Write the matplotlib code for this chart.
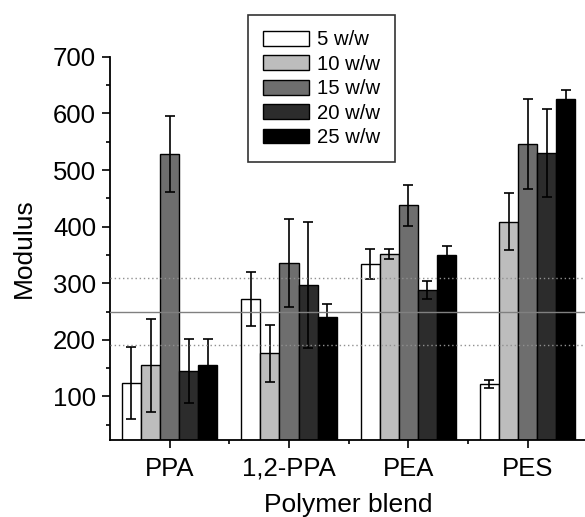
import numpy as np
import matplotlib
matplotlib.use("Agg")
import matplotlib.pyplot as plt
from matplotlib.ticker import MultipleLocator, FixedLocator

plt.rcParams['font.family'] = ['Liberation Sans', 'DejaVu Sans']

blends = ['PPA', '1,2-PPA', 'PEA', 'PES']
series = ['5 w/w', '10 w/w', '15 w/w', '20 w/w', '25 w/w']
colors = ['#ffffff', '#bdbdbd', '#6e6e6e', '#2c2c2c', '#000000']

# modulus per series, one value per blend
modulus = [
    [124, 272, 334, 122],
    [155, 176, 352, 409],
    [529, 336, 438, 546],
    [145, 297, 288, 530],
    [155, 240, 350, 625],
]
errors = [
    [64, 47, 27, 7],
    [82, 50, 9, 50],
    [67, 78, 36, 80],
    [56, 112, 16, 77],
    [46, 23, 16, 16],
]
mean_line = 250
band = [190, 310]

fig = plt.figure(figsize=(5.85, 5.17), dpi=100)
ax = fig.add_axes([0.188, 0.149, 0.816, 0.741])

x = np.arange(1, len(blends) + 1)
w = 0.16
for i, (lab, col) in enumerate(zip(series, colors)):
    ax.bar(x + (i - 2) * w, modulus[i], width=w, color=col, edgecolor='black',
           linewidth=1.0, label=lab, zorder=2,
           yerr=errors[i], capsize=3.5,
           error_kw=dict(ecolor='black', elinewidth=1.2, capthick=1.2, zorder=3))

ax.axhline(mean_line, color='#808080', lw=1.0, zorder=4)
for b in band:
    ax.axhline(b, color='#909090', lw=1.0, ls=(0, (1, 2)), zorder=4)

ax.set_xlim(0.5, 4.5)
ax.set_ylim(23, 700)
ax.set_xticks(x)
ax.set_xticklabels(blends)
ax.xaxis.set_minor_locator(FixedLocator([1.5, 2.5, 3.5]))
ax.yaxis.set_major_locator(MultipleLocator(100))
ax.yaxis.set_minor_locator(MultipleLocator(50))
ax.set_yticks(range(100, 701, 100))

for s in ['top', 'right']:
    ax.spines[s].set_visible(False)
for s in ['left', 'bottom']:
    ax.spines[s].set_linewidth(1.3)
ax.tick_params(which='major', direction='out', length=6, width=1.2, labelsize=18.5)
ax.tick_params(axis='y', which='major', pad=4)
ax.tick_params(axis='x', which='major', pad=6)
ax.tick_params(which='minor', direction='out', length=3, width=1.2)

ax.set_xlabel('Polymer blend', fontsize=19, labelpad=9)
ax.set_ylabel('Modulus', fontsize=19, labelpad=12)

leg = fig.legend(loc='upper left', bbox_to_anchor=(0.424, 0.971), fontsize=14.6,
                 frameon=True, fancybox=False, edgecolor='black',
                 handlelength=2.25, handleheight=0.75, labelspacing=0.27,
                 handletextpad=0.4, borderpad=0.75, borderaxespad=0)
leg.get_frame().set_linewidth(1.2)

fig.savefig('out.png', dpi=100)
